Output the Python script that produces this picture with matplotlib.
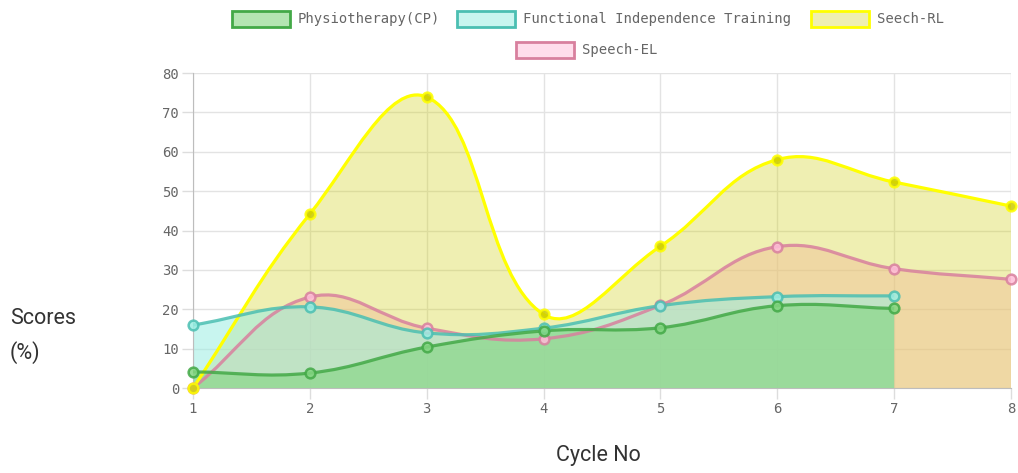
import numpy as np
import matplotlib.pyplot as plt
from matplotlib.path import Path
from matplotlib.patches import PathPatch, Rectangle

# data
cycles = [1, 2, 3, 4, 5, 6, 7, 8]
physio = [4.1, 3.8, 10.4, 14.5, 15.3, 20.9, 20.2]
fit = [16.0, 20.6, 14.0, 15.2, 20.9, 23.2, 23.4]
seech_rl = [0, 44.2, 73.9, 18.7, 36.0, 58.0, 52.3, 46.2]
speech_el = [0, 23.1, 15.2, 12.5, 21.0, 35.9, 30.3, 27.6]

labels = ['Physiotherapy(CP)', 'Functional Independence Training', 'Seech-RL', 'Speech-EL']
series = [physio, fit, seech_rl, speech_el]
line_cols = ['#43a947', '#4bbfb2', '#ffff00', '#d8809e']
fill_cols = [(130 / 255, 213 / 255, 128 / 255, 0.6), (155 / 255, 237 / 255, 226 / 255, 0.55),
             (205 / 255, 205 / 255, 0.0, 0.3), (1.0, 189 / 255, 217 / 255, 0.5)]

# px per data unit (for chart.js-like spline tension)
SX, SY = 116.9, 3.94


def spline_path(xs, ys, t=0.4):
    p = np.column_stack([np.array(xs, float) * SX, np.array(ys, float) * SY])
    n = len(p)
    cp_prev = p.copy()
    cp_next = p.copy()
    for i in range(n):
        pr = p[max(i - 1, 0)]
        nx = p[min(i + 1, n - 1)]
        d01 = np.hypot(*(p[i] - pr))
        d12 = np.hypot(*(nx - p[i]))
        s = d01 + d12
        s01 = d01 / s if s else 0
        s12 = d12 / s if s else 0
        cp_prev[i] = p[i] - t * s01 * (nx - pr)
        cp_next[i] = p[i] + t * s12 * (nx - pr)
    verts = [p[0]]
    codes = [Path.MOVETO]
    for i in range(n - 1):
        verts += [cp_next[i], cp_prev[i + 1], p[i + 1]]
        codes += [Path.CURVE4] * 3
    verts = np.array(verts) / [SX, SY]
    return verts, codes


fig = plt.figure(figsize=(10.18, 4.73), dpi=100)
ax = fig.add_axes([193 / 1018, 1 - 388 / 473, 818 / 1018, 315 / 473])

# fills: last dataset at the bottom, first on top
for k in range(len(series) - 1, -1, -1):
    ys = series[k]
    xs = cycles[:len(ys)]
    verts, codes = spline_path(xs, ys)
    fv = np.vstack([verts, [[xs[-1], 0], [xs[0], 0], [xs[0], ys[0]]]])
    fc = codes + [Path.LINETO, Path.LINETO, Path.CLOSEPOLY]
    ax.add_patch(PathPatch(Path(fv, fc), facecolor=fill_cols[k], edgecolor='none', zorder=2 + (3 - k) * 0.01))
for k in range(len(series) - 1, -1, -1):
    ys = series[k]
    xs = cycles[:len(ys)]
    verts, codes = spline_path(xs, ys)
    ax.add_patch(PathPatch(Path(verts, codes), facecolor='none', edgecolor=line_cols[k],
                           lw=2.3, zorder=3 + (3 - k) * 0.1, alpha=1.0 if k == 2 else 0.85))
    ax.plot(xs, ys, 'o', ms=7, mfc=fill_cols[k][:3] + (0.7,), mec=line_cols[k], mew=1.8,
            alpha=0.85, zorder=4 + (3 - k) * 0.1, clip_on=False)

ax.set_xlim(1, 8)
ax.set_ylim(0, 80)
ax.set_xticks(cycles)
ax.set_yticks(range(0, 81, 10))
ax.grid(True, color='#e3e3e3', lw=1, zorder=0)
ax.set_axisbelow(True)
for s in ['top', 'right']:
    ax.spines[s].set_visible(False)
ax.spines['left'].set_color('#bdbdbd')
ax.spines['bottom'].set_color('#bdbdbd')
ax.tick_params(colors='#dddddd', labelcolor='#666666', length=8, width=1, pad=2)
for lab in ax.get_xticklabels() + ax.get_yticklabels():
    lab.set_family('DejaVu Sans Mono')
    lab.set_fontsize(10)

fig.text(10 / 1018, 1 - 318 / 473, 'Scores', family='Roboto', fontsize=15.5, color='#333333', va='center')
fig.text(10 / 1018, 1 - 353 / 473, '(%)', family='Roboto', fontsize=15.5, color='#333333', va='center')
fig.text(598 / 1018, 1 - 455 / 473, 'Cycle No', family='Roboto', fontsize=15.5, color='#333333',
         ha='center', va='center')

# legend
leg_pos = [(232, 19), (457, 19), (811, 19), (516, 50)]
for k, (lx, ly) in enumerate(leg_pos):
    fig.patches.append(Rectangle((lx / 1018, 1 - (ly + 8) / 473), 58 / 1018, 16 / 473,
                                 transform=fig.transFigure, facecolor=fill_cols[k],
                                 edgecolor=line_cols[k], lw=2))
    fig.text((lx + 66) / 1018, 1 - ly / 473, labels[k], family='DejaVu Sans Mono',
             fontsize=10, color='#666666', va='center')

fig.savefig('out.png', dpi=100)
